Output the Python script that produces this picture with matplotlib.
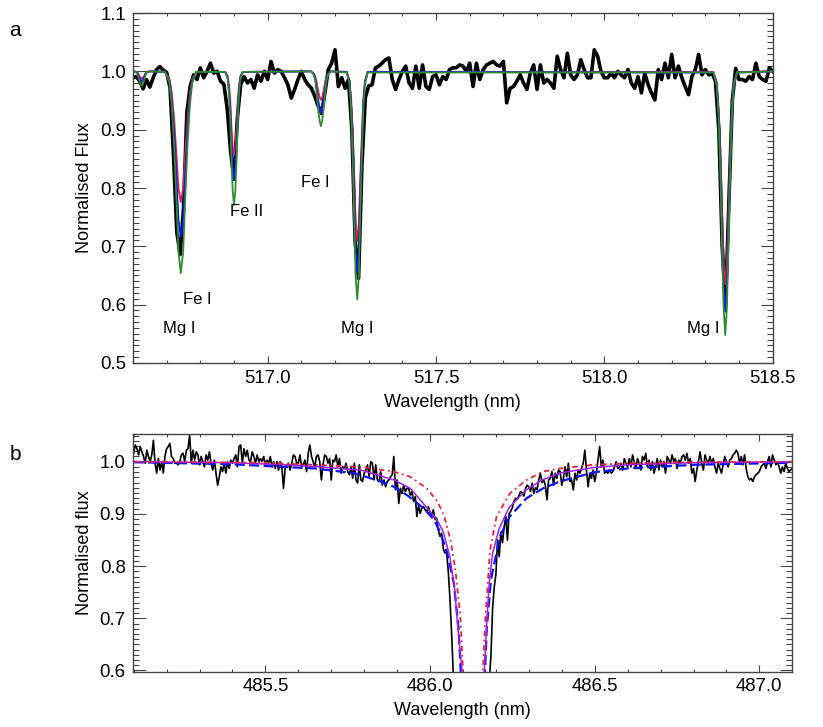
import numpy as np
import matplotlib.pyplot as plt
from matplotlib.ticker import MultipleLocator, FormatStrFormatter

plt.rcParams['font.family'] = ['Liberation Sans', 'DejaVu Sans']

# ---- panel a: observed spectrum (0.01 nm sampling from 516.60 nm) ----
obs_a_start = 516.60
obs_a_step = 0.01
obs_a_flux = [
    0.989, 0.991, 0.983, 0.970, 0.986, 0.973, 0.989, 1.003, 1.008, 1.002,
    0.998, 0.972, 0.860, 0.725, 0.686, 0.765, 0.930, 0.975, 0.994, 0.986,
    1.006, 0.989, 1.000, 1.014, 0.997, 1.000, 0.983, 0.978, 0.935, 0.862,
    0.815, 0.920, 0.978, 0.991, 0.980, 0.986, 0.971, 0.994, 0.983, 1.000,
    0.986, 1.017, 0.997, 1.003, 1.000, 0.989, 0.977, 0.954, 0.969, 0.986,
    1.000, 0.986, 0.977, 0.971, 0.957, 0.940, 0.928, 0.963, 1.003, 1.014,
    1.037, 0.974, 0.989, 0.971, 0.986, 0.900, 0.705, 0.645, 0.840, 0.955,
    0.975, 0.977, 1.006, 1.009, 1.014, 1.020, 1.023, 0.986, 0.969, 0.986,
    1.000, 1.009, 0.980, 0.971, 1.009, 0.971, 1.011, 0.974, 0.969, 0.991,
    0.994, 0.977, 0.991, 0.986, 1.003, 1.006, 1.006, 1.011, 1.009, 1.000,
    1.014, 0.974, 1.014, 0.986, 1.003, 1.011, 1.014, 1.017, 1.011, 1.009,
    1.017, 0.946, 0.971, 0.974, 0.983, 0.994, 0.980, 0.969, 0.997, 1.011,
    0.969, 1.011, 0.980, 0.986, 0.980, 0.971, 1.026, 1.003, 0.989, 1.031,
    0.994, 0.986, 0.994, 1.020, 1.003, 0.989, 0.989, 1.037, 1.026, 1.000,
    0.989, 0.989, 0.997, 0.989, 1.000, 0.994, 0.989, 1.003, 0.980, 0.971,
    0.991, 0.963, 0.997, 0.977, 0.963, 0.951, 1.003, 0.986, 1.014, 0.989,
    1.029, 0.989, 1.009, 0.989, 0.974, 0.960, 0.991, 1.003, 1.029, 0.994,
    1.003, 0.994, 0.997, 0.983, 0.900, 0.700, 0.600, 0.780, 0.950, 1.005,
    0.986, 0.986, 0.983, 0.991, 0.986, 1.014, 0.991, 0.986, 0.983, 1.006,
    1.000,
]

# ---- panel a: synthetic spectra ----
mod_a_wave = [
    516.600,
    516.603, 516.609, 516.613, 516.616, 516.619, 516.623, 516.626,
    516.629, 516.633, 516.636, 516.639, 516.643, 516.649,
    516.696, 516.708, 516.715, 516.722, 516.729, 516.735, 516.742,
    516.749, 516.755, 516.762, 516.769, 516.776, 516.788,
    516.874, 516.881, 516.885, 516.889, 516.892, 516.896, 516.900,
    516.904, 516.908, 516.911, 516.915, 516.919, 516.926,
    517.128, 517.136, 517.141, 517.145, 517.149, 517.154, 517.158,
    517.162, 517.167, 517.171, 517.175, 517.180, 517.188,
    517.235, 517.243, 517.248, 517.252, 517.257, 517.261, 517.266,
    517.271, 517.275, 517.280, 517.284, 517.289, 517.297,
    518.324, 518.334, 518.339, 518.344, 518.349, 518.354, 518.359,
    518.364, 518.369, 518.374, 518.379, 518.384, 518.394,
    518.500,
]
mod_a_red = [
    1.000,
    1.000, 0.999, 0.998, 0.996, 0.992, 0.989, 0.988,
    0.989, 0.992, 0.996, 0.998, 0.999, 1.000,
    0.999, 0.987, 0.963, 0.919, 0.858, 0.800, 0.776,
    0.800, 0.858, 0.919, 0.963, 0.987, 0.999,
    0.999, 0.992, 0.977, 0.949, 0.909, 0.872, 0.857,
    0.872, 0.909, 0.949, 0.977, 0.992, 0.999,
    1.000, 0.997, 0.992, 0.982, 0.969, 0.956, 0.951,
    0.956, 0.969, 0.982, 0.992, 0.997, 1.000,
    0.999, 0.984, 0.952, 0.895, 0.815, 0.740, 0.709,
    0.740, 0.815, 0.895, 0.952, 0.984, 0.999,
    0.999, 0.980, 0.940, 0.869, 0.768, 0.674, 0.635,
    0.674, 0.768, 0.869, 0.940, 0.980, 0.999,
    1.000,
]
mod_a_blue = [
    1.000,
    1.000, 0.999, 0.997, 0.994, 0.989, 0.985, 0.983,
    0.985, 0.989, 0.994, 0.997, 0.999, 1.000,
    0.999, 0.984, 0.953, 0.898, 0.819, 0.746, 0.716,
    0.746, 0.819, 0.898, 0.953, 0.984, 0.999,
    0.999, 0.990, 0.969, 0.933, 0.882, 0.834, 0.814,
    0.834, 0.882, 0.933, 0.969, 0.990, 0.999,
    1.000, 0.996, 0.988, 0.974, 0.955, 0.937, 0.929,
    0.937, 0.955, 0.974, 0.988, 0.996, 1.000,
    0.999, 0.981, 0.944, 0.877, 0.782, 0.694, 0.657,
    0.694, 0.782, 0.877, 0.944, 0.981, 0.999,
    0.998, 0.977, 0.932, 0.852, 0.738, 0.632, 0.588,
    0.632, 0.738, 0.852, 0.932, 0.977, 0.998,
    1.000,
]
mod_a_green = [
    1.000,
    1.000, 0.999, 0.996, 0.991, 0.984, 0.978, 0.975,
    0.978, 0.984, 0.991, 0.996, 0.999, 1.000,
    0.999, 0.981, 0.943, 0.875, 0.780, 0.691, 0.654,
    0.691, 0.780, 0.875, 0.943, 0.981, 0.999,
    0.999, 0.987, 0.962, 0.918, 0.854, 0.796, 0.771,
    0.796, 0.854, 0.918, 0.962, 0.987, 0.999,
    1.000, 0.995, 0.985, 0.966, 0.940, 0.916, 0.906,
    0.916, 0.940, 0.966, 0.985, 0.995, 1.000,
    0.998, 0.978, 0.936, 0.859, 0.751, 0.651, 0.609,
    0.651, 0.751, 0.859, 0.936, 0.978, 0.998,
    0.998, 0.975, 0.926, 0.837, 0.713, 0.596, 0.548,
    0.596, 0.713, 0.837, 0.926, 0.975, 0.998,
    1.000,
]

line_names = ['Mg I', 'Fe I', 'Fe II', 'Fe I', 'Mg I', 'Mg I']
name_wave = [516.736, 516.791, 516.938, 517.141, 517.266, 518.295]
name_flux = [0.559, 0.609, 0.759, 0.809, 0.559, 0.559]

# ---- panel b: observed H-beta region (0.005 nm sampling from 485.10 nm) ----
obs_b_start = 485.10
obs_b_step = 0.005
obs_b_flux = [
    1.016, 1.032, 1.025, 1.013, 1.029, 1.019, 1.010, 0.997, 1.022, 1.010,
    1.000, 1.013, 1.041, 0.997, 0.978, 1.006, 0.984, 1.000, 0.978, 1.010,
    1.025, 1.029, 1.035, 1.010, 1.006, 0.997, 0.997, 0.994, 1.000, 1.013,
    1.016, 1.000, 1.022, 1.025, 1.051, 0.997, 1.022, 1.003, 1.019, 1.013,
    0.994, 1.010, 1.000, 0.990, 1.013, 1.003, 1.019, 0.997, 0.984, 1.003,
    0.978, 0.955, 0.971, 0.990, 0.981, 0.997, 0.978, 1.000, 0.987, 1.003,
    0.997, 1.006, 1.013, 0.990, 1.029, 1.032, 0.997, 1.025, 1.010, 1.022,
    1.003, 1.000, 1.019, 1.010, 0.997, 1.013, 1.000, 1.006, 1.000, 1.010,
    0.994, 1.003, 0.997, 1.010, 0.990, 1.000, 0.987, 1.000, 0.984, 1.000,
    0.990, 0.949, 0.987, 0.994, 0.997, 0.984, 0.997, 1.013, 1.010, 0.997,
    0.997, 1.013, 0.990, 0.994, 1.003, 0.981, 1.016, 1.032, 1.010, 1.000,
    0.990, 1.010, 1.013, 1.000, 0.965, 0.994, 1.013, 1.010, 0.997, 1.006,
    0.965, 1.003, 1.000, 1.013, 0.990, 1.006, 0.978, 0.990, 0.987, 0.997,
    0.981, 0.975, 0.990, 0.968, 0.997, 0.965, 0.959, 0.994, 0.965, 0.962,
    0.978, 0.984, 0.994, 0.971, 1.000, 0.997, 0.965, 0.994, 0.965, 0.962,
    0.981, 0.955, 0.965, 0.952, 0.962, 0.965, 0.971, 0.975, 1.010, 0.946,
    0.965, 0.920, 0.949, 0.939, 0.955, 0.943, 0.949, 0.949, 0.936, 0.943,
    0.924, 0.933, 0.895, 0.917, 0.901, 0.911, 0.914, 0.908, 0.904, 0.914,
    0.901, 0.895, 0.908, 0.889, 0.892, 0.869, 0.857, 0.863, 0.834, 0.825,
    0.828, 0.793, 0.742, 0.678, 0.602, 0.550, 0.500, 0.460, 0.420, 0.390,
    0.370, 0.350, 0.340, 0.330, 0.330, 0.330, 0.330, 0.340, 0.350, 0.360,
    0.380, 0.400, 0.430, 0.460, 0.500, 0.540, 0.580, 0.630, 0.720, 0.760,
    0.785, 0.850, 0.818, 0.865, 0.845, 0.875, 0.895, 0.850, 0.900, 0.905,
    0.912, 0.925, 0.930, 0.928, 0.935, 0.943, 0.940, 0.934, 0.949, 0.955,
    0.952, 0.943, 0.959, 0.939, 0.950, 0.947, 0.965, 0.978, 0.960, 0.965,
    0.955, 0.927, 0.965, 0.968, 0.981, 0.955, 0.978, 0.968, 0.984, 0.981,
    0.955, 0.968, 0.990, 0.971, 0.997, 0.962, 0.965, 0.946, 0.978, 0.965,
    0.984, 0.978, 0.987, 0.997, 1.022, 0.984, 0.952, 0.978, 0.968, 0.984,
    0.962, 0.978, 1.003, 1.029, 0.990, 1.003, 0.978, 0.981, 0.978, 0.984,
    0.978, 0.981, 0.990, 1.000, 0.987, 0.990, 0.997, 0.984, 1.006, 0.997,
    0.990, 1.006, 0.990, 1.013, 1.000, 0.987, 1.006, 0.997, 0.984, 1.010,
    1.003, 1.016, 0.990, 1.003, 0.984, 1.000, 0.978, 0.990, 1.006, 0.984,
    1.003, 0.990, 1.000, 0.978, 1.010, 1.003, 0.997, 1.013, 1.000, 1.006,
    0.987, 1.003, 0.997, 1.010, 1.013, 1.003, 1.016, 0.997, 1.006, 0.978,
    0.987, 0.962, 0.984, 1.000, 1.019, 0.997, 0.984, 1.013, 1.003, 0.997,
    1.010, 0.997, 1.006, 0.990, 0.978, 0.997, 0.987, 0.978, 0.994, 1.010,
    1.000, 0.990, 1.003, 1.006, 1.013, 1.016, 1.022, 1.016, 0.997, 1.010,
    0.994, 1.013, 0.987, 0.971, 0.965, 0.968, 0.962, 0.971, 0.975, 0.978,
    0.981, 0.990, 0.994, 0.997, 0.987, 1.000, 1.010, 0.990, 1.013, 1.003,
    0.994, 1.000, 0.990, 0.978, 0.990, 0.981, 0.997, 0.987, 0.981, 0.984,
    0.987,
]

# ---- panel b: model profiles, blue (left) and red (right) wings ----
blue_l_wave = [485.10, 485.40, 485.65, 485.77, 485.85, 485.89, 485.93, 485.98,
               486.012, 486.032, 486.052, 486.072, 486.087, 486.093, 486.10]
blue_l_flux = [0.999, 0.995, 0.987, 0.978, 0.962, 0.952, 0.936, 0.911,
               0.889, 0.863, 0.825, 0.768, 0.678, 0.600, 0.500]
blue_r_wave = [486.160, 486.167, 486.172, 486.185, 486.212, 486.242, 486.293,
               486.343, 486.394, 486.50, 486.60, 486.80, 487.10]
blue_r_flux = [0.500, 0.600, 0.678, 0.774, 0.857, 0.895, 0.930,
               0.949, 0.962, 0.980, 0.987, 0.994, 0.998]

purple_l_wave = [485.10, 485.40, 485.60, 485.79, 485.89, 485.94, 485.99, 486.02,
                 486.04, 486.06, 486.075, 486.085, 486.097, 486.105]
purple_l_flux = [1.000, 0.998, 0.993, 0.984, 0.965, 0.949, 0.912, 0.890,
                 0.866, 0.818, 0.755, 0.678, 0.600, 0.500]
purple_r_wave = [486.158, 486.165, 486.172, 486.180, 486.190, 486.210, 486.240,
                 486.290, 486.340, 486.400, 486.50, 486.60, 486.80, 487.10]
purple_r_flux = [0.500, 0.600, 0.690, 0.770, 0.825, 0.872, 0.912,
                 0.945, 0.965, 0.979, 0.989, 0.994, 0.998, 1.000]

red_l_wave = [485.10, 485.50, 485.79, 485.89, 485.94, 485.99, 486.022, 486.042,
              486.062, 486.077, 486.092, 486.100, 486.106]
red_l_flux = [1.000, 0.998, 0.990, 0.981, 0.971, 0.949, 0.924, 0.898,
              0.850, 0.793, 0.704, 0.600, 0.500]
red_r_wave = [486.155, 486.161, 486.167, 486.182, 486.202, 486.242, 486.293,
              486.343, 486.394, 486.495, 486.60, 486.80, 487.10]
red_r_flux = [0.500, 0.600, 0.690, 0.831, 0.895, 0.939, 0.965,
              0.981, 0.987, 0.994, 0.997, 0.999, 1.000]

RED = '#e8203f'
BLUE = '#0a14ff'
GREEN = '#2e8b2e'
PURPLE = '#a020f0'

fig = plt.figure(figsize=(8.23, 7.27), dpi=100)
ax1 = fig.add_axes([0.1616, 0.5007, 0.7773, 0.4814])
ax2 = fig.add_axes([0.1612, 0.0763, 0.8007, 0.3267])

# panel a
wave_a = obs_a_start + obs_a_step * np.arange(len(obs_a_flux))
ax1.plot(wave_a, obs_a_flux, color='black', lw=2.6, solid_joinstyle='round')
ax1.plot(mod_a_wave, mod_a_red, color=RED, lw=1.3)
ax1.plot(mod_a_wave, mod_a_blue, color=BLUE, lw=1.3)
ax1.plot(mod_a_wave, mod_a_green, color=GREEN, lw=1.3)
for name, w, f in zip(line_names, name_wave, name_flux):
    ax1.text(w, f, name, ha='center', va='center', fontsize=12)

ax1.set_xlim(516.6, 518.5)
ax1.set_ylim(0.5, 1.1)
ax1.xaxis.set_major_locator(MultipleLocator(0.5))
ax1.xaxis.set_minor_locator(MultipleLocator(0.1))
ax1.yaxis.set_major_locator(MultipleLocator(0.1))
ax1.yaxis.set_minor_locator(MultipleLocator(0.01))
ax1.set_xlabel('Wavelength (nm)', fontsize=13, labelpad=5)
ax1.set_ylabel('Normalised Flux', fontsize=13, labelpad=5)

# panel b
wave_b = obs_b_start + obs_b_step * np.arange(len(obs_b_flux))
ax2.plot(wave_b, obs_b_flux, color='black', lw=1.2)
ax2.plot(blue_l_wave, blue_l_flux, color=BLUE, lw=1.6, dashes=(4.5, 2))
ax2.plot(blue_r_wave, blue_r_flux, color=BLUE, lw=1.6, dashes=(4.5, 2))
ax2.plot(purple_l_wave, purple_l_flux, color=PURPLE, lw=1.1)
ax2.plot(purple_r_wave, purple_r_flux, color=PURPLE, lw=1.1)
ax2.plot(red_l_wave, red_l_flux, color=RED, lw=1.3, dashes=(3, 2, 1, 2))
ax2.plot(red_r_wave, red_r_flux, color=RED, lw=1.3, dashes=(3, 2, 1, 2))

ax2.set_xlim(485.097, 487.098)
ax2.set_ylim(0.598, 1.053)
ax2.xaxis.set_major_locator(MultipleLocator(0.5))
ax2.xaxis.set_minor_locator(MultipleLocator(0.1))
ax2.yaxis.set_major_locator(MultipleLocator(0.1))
ax2.yaxis.set_minor_locator(MultipleLocator(0.01))
ax2.set_xlabel('Wavelength (nm)', fontsize=13, labelpad=5)
ax2.set_ylabel('Normalised flux', fontsize=13, labelpad=5)

for ax in (ax1, ax2):
    ax.xaxis.set_major_formatter(FormatStrFormatter('%.1f'))
    ax.yaxis.set_major_formatter(FormatStrFormatter('%.1f'))
    ax.tick_params(which='both', direction='in', top=True, right=True,
                   labelsize=13.4, width=0.8, color='#444444')
    ax.tick_params(axis='x', which='major', length=5, pad=5)
    ax.tick_params(axis='x', which='minor', length=2.5)
    ax.tick_params(axis='y', which='major', length=9, pad=5)
    ax.tick_params(axis='y', which='minor', length=4.5)
    for sp in ax.spines.values():
        sp.set_color('#444444')
        sp.set_linewidth(1.0)

fig.text(15 / 823, 1 - 30 / 727, 'a', fontsize=15, ha='center', va='center')
fig.text(15 / 823, 1 - 455 / 727, 'b', fontsize=15, ha='center', va='center')

fig.savefig('out.png', dpi=100)
